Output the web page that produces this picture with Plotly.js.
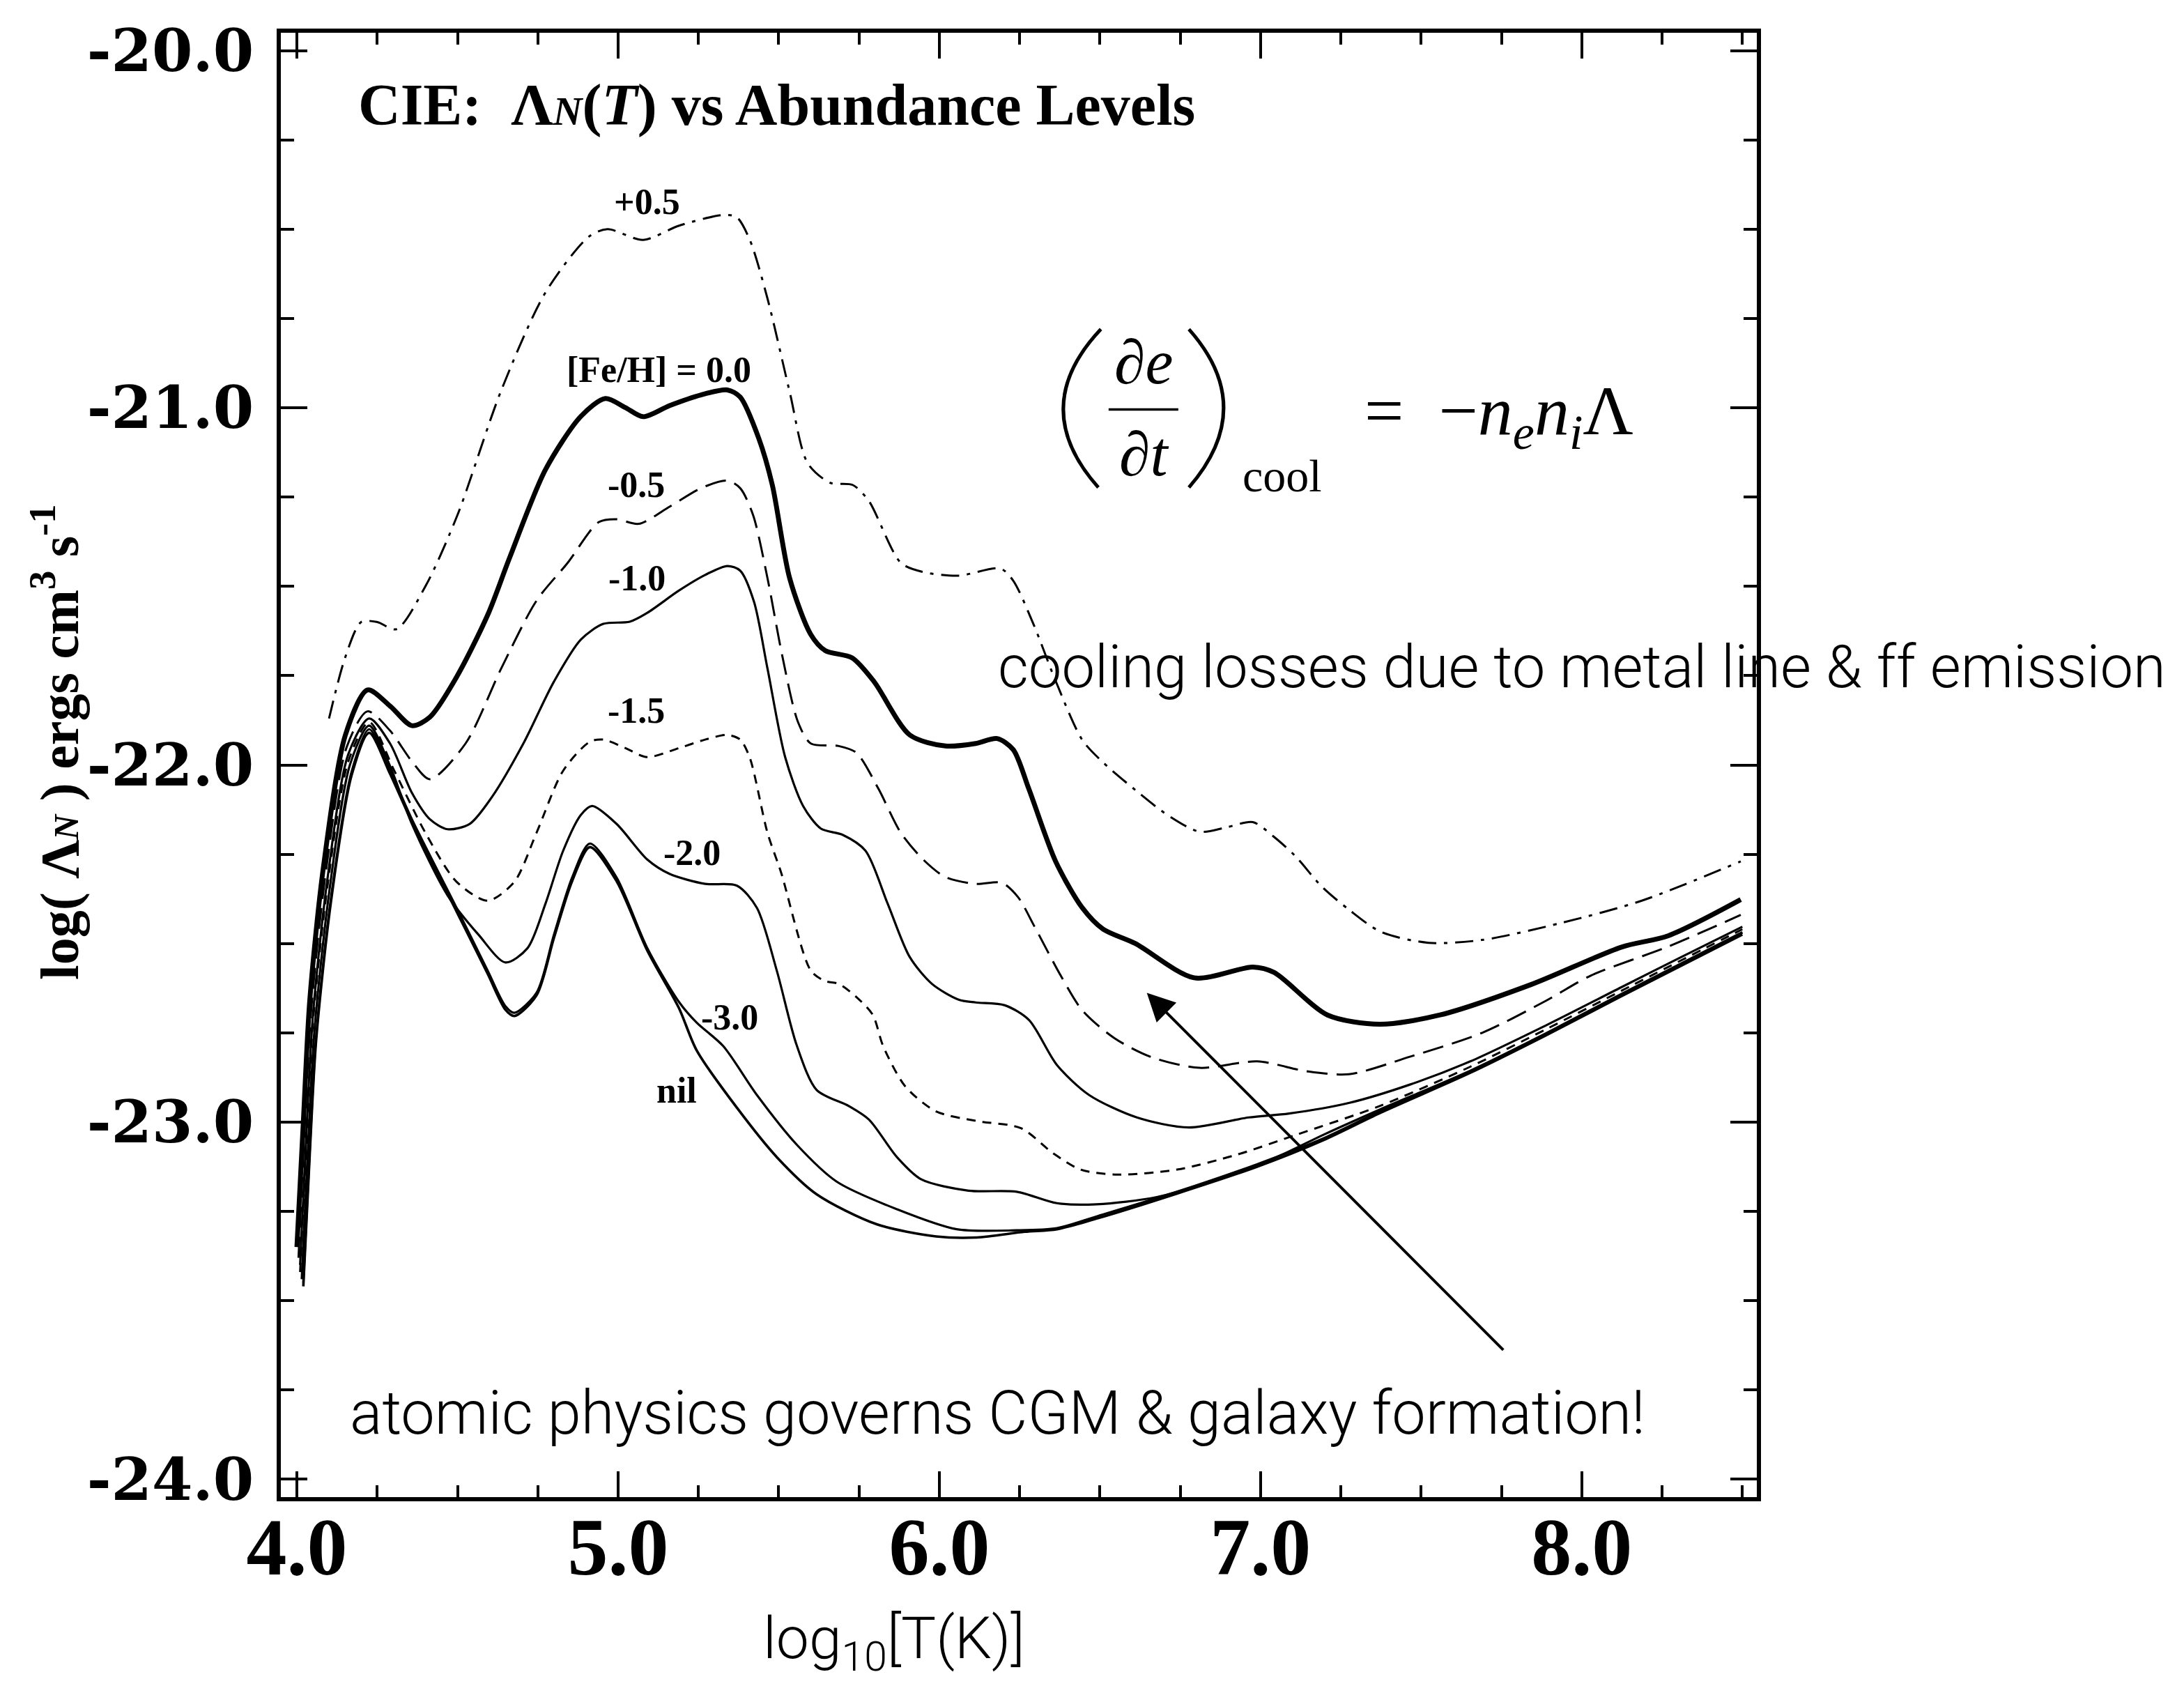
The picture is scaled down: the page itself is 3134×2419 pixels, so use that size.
<!DOCTYPE html>
<html>
<head>
<meta charset="utf-8">
<script src="https://cdn.plot.ly/plotly-3.0.1.min.js"></script>
<style>html,body{margin:0;padding:0;background:#fff;}#chart{width:3134px;height:2419px;}</style>
</head>
<body>
<div id="chart"></div>
<script>
// ---------- data ----------
const p05X = [4.10, 4.15, 4.20, 4.25, 4.31, 4.40, 4.50, 4.635, 4.774, 4.91, 4.967, 5.078, 5.19, 5.33, 5.37, 5.41, 5.465, 5.534, 5.59, 5.66, 5.73, 5.78, 5.88, 5.95, 6.06, 6.19, 6.23, 6.295, 6.36, 6.445, 6.511, 6.61, 6.71, 6.81, 6.893, 6.976, 7.04, 7.108, 7.19, 7.275, 7.374, 7.523, 7.69, 7.938, 8.187, 8.495];
const p05Y = [-21.87, -21.70, -21.60, -21.60, -21.62, -21.50, -21.30, -20.954, -20.677, -20.52, -20.50, -20.53, -20.49, -20.46, -20.467, -20.53, -20.694, -20.955, -21.155, -21.21, -21.216, -21.26, -21.434, -21.46, -21.47, -21.45, -21.484, -21.61, -21.76, -21.93, -21.994, -22.07, -22.14, -22.187, -22.175, -22.16, -22.20, -22.255, -22.34, -22.405, -22.467, -22.498, -22.49, -22.442, -22.38, -22.27];

const z00X = [4.00, 4.02, 4.04, 4.082, 4.151, 4.22, 4.29, 4.358, 4.414, 4.497, 4.594, 4.663, 4.774, 4.884, 4.96, 5.022, 5.078, 5.16, 5.258, 5.34, 5.38, 5.438, 5.48, 5.534, 5.60, 5.645, 5.728, 5.797, 5.908, 6.019, 6.113, 6.18, 6.23, 6.279, 6.362, 6.445, 6.51, 6.61, 6.793, 6.976, 7.042, 7.208, 7.371, 7.559, 7.842, 8.124, 8.27, 8.495];
const z00Y = [-23.35, -23.00, -22.66, -22.29, -21.916, -21.79, -21.835, -21.89, -21.866, -21.754, -21.58, -21.418, -21.173, -21.024, -20.974, -20.999, -21.025, -20.994, -20.964, -20.95, -20.97, -21.086, -21.216, -21.477, -21.635, -21.68, -21.70, -21.767, -21.916, -21.947, -21.94, -21.926, -21.957, -22.068, -22.27, -22.40, -22.46, -22.50, -22.596, -22.566, -22.581, -22.70, -22.726, -22.70, -22.615, -22.51, -22.478, -22.377];

const m05X = [4.005, 4.025, 4.045, 4.09, 4.155, 4.22, 4.29, 4.358, 4.414, 4.525, 4.636, 4.746, 4.843, 4.94, 4.995, 5.064, 5.16, 5.258, 5.34, 5.38, 5.42, 5.465, 5.51, 5.56, 5.60, 5.687, 5.742, 5.81, 5.88, 5.95, 6.019, 6.113, 6.195, 6.245, 6.296, 6.378, 6.445, 6.545, 6.66, 6.81, 6.99, 7.14, 7.275, 7.465, 7.69, 7.889, 8.03, 8.265, 8.495];
const m05Y = [-23.38, -23.00, -22.68, -22.30, -21.95, -21.85, -21.904, -21.99, -22.04, -21.94, -21.73, -21.54, -21.434, -21.32, -21.312, -21.325, -21.277, -21.225, -21.204, -21.225, -21.30, -21.477, -21.69, -21.88, -21.94, -21.947, -21.966, -22.066, -22.19, -22.265, -22.314, -22.333, -22.33, -22.37, -22.452, -22.59, -22.687, -22.765, -22.818, -22.848, -22.83, -22.857, -22.866, -22.817, -22.75, -22.66, -22.589, -22.51, -22.42];

const m10X = [4.01, 4.03, 4.05, 4.095, 4.16, 4.225, 4.29, 4.358, 4.414, 4.469, 4.538, 4.607, 4.705, 4.80, 4.884, 4.954, 5.036, 5.091, 5.189, 5.271, 5.34, 5.38, 5.423, 5.465, 5.52, 5.576, 5.631, 5.70, 5.77, 5.839, 5.908, 5.977, 6.06, 6.113, 6.204, 6.279, 6.366, 6.466, 6.615, 6.777, 6.963, 7.089, 7.277, 7.465, 7.653, 7.889, 8.124, 8.312, 8.50];
const m10Y = [-23.40, -23.02, -22.70, -22.32, -21.97, -21.87, -21.94, -22.078, -22.152, -22.18, -22.165, -22.09, -21.94, -21.767, -21.649, -21.605, -21.599, -21.574, -21.512, -21.468, -21.443, -21.456, -21.543, -21.73, -21.978, -22.115, -22.178, -22.196, -22.24, -22.388, -22.538, -22.613, -22.657, -22.665, -22.673, -22.714, -22.84, -22.924, -22.987, -23.015, -22.987, -22.976, -22.946, -22.895, -22.83, -22.729, -22.622, -22.537, -22.453];

const m15X = [4.01, 4.03, 4.05, 4.095, 4.16, 4.225, 4.303, 4.40, 4.497, 4.594, 4.677, 4.746, 4.829, 4.912, 4.954, 5.023, 5.09, 5.189, 5.271, 5.34, 5.38, 5.41, 5.465, 5.507, 5.60, 5.644, 5.687, 5.742, 5.793, 5.825, 5.894, 5.99, 6.117, 6.254, 6.354, 6.44, 6.553, 6.74, 6.927, 7.113, 7.371, 7.653, 7.889, 8.124, 8.50];
const m15Y = [-23.42, -23.05, -22.72, -22.34, -21.99, -21.88, -22.016, -22.19, -22.327, -22.38, -22.327, -22.19, -22.016, -21.935, -21.929, -21.953, -21.978, -21.953, -21.929, -21.916, -21.929, -21.98, -22.19, -22.30, -22.576, -22.605, -22.613, -22.65, -22.70, -22.787, -22.90, -22.97, -22.997, -23.017, -23.087, -23.133, -23.147, -23.133, -23.091, -23.035, -22.955, -22.845, -22.74, -22.632, -22.46];

const m20X = [4.015, 4.035, 4.055, 4.10, 4.165, 4.225, 4.29, 4.358, 4.469, 4.566, 4.649, 4.718, 4.774, 4.829, 4.884, 4.919, 4.995, 5.091, 5.16, 5.271, 5.37, 5.432, 5.494, 5.556, 5.618, 5.718, 5.781, 5.868, 5.943, 6.091, 6.241, 6.366, 6.49, 6.677, 6.863, 7.05, 7.197, 7.371, 7.653, 7.889, 8.124, 8.50];
const m20Y = [-23.44, -23.06, -22.74, -22.36, -22.00, -21.89, -22.003, -22.165, -22.365, -22.476, -22.553, -22.513, -22.388, -22.24, -22.14, -22.115, -22.165, -22.265, -22.305, -22.333, -22.338, -22.40, -22.576, -22.785, -22.91, -22.955, -22.993, -23.098, -23.16, -23.192, -23.195, -23.227, -23.23, -23.21, -23.16, -23.098, -23.035, -22.965, -22.856, -22.751, -22.641, -22.468];

const m30X = [4.02, 4.04, 4.06, 4.105, 4.17, 4.225, 4.29, 4.358, 4.497, 4.594, 4.649, 4.677, 4.746, 4.80, 4.857, 4.912, 4.995, 5.091, 5.189, 5.245, 5.327, 5.432, 5.556, 5.681, 5.868, 6.054, 6.241, 6.366, 6.49, 6.74, 6.989, 7.197, 7.371, 7.653, 7.889, 8.124, 8.50];
const m30Y = [-23.45, -23.08, -22.76, -22.38, -22.02, -21.90, -22.016, -22.152, -22.40, -22.576, -22.675, -22.694, -22.638, -22.476, -22.315, -22.22, -22.315, -22.513, -22.663, -22.722, -22.787, -22.924, -23.063, -23.167, -23.244, -23.30, -23.303, -23.297, -23.264, -23.195, -23.118, -23.045, -22.97, -22.858, -22.753, -22.643, -22.47];

const nilX = [4.02, 4.04, 4.06, 4.105, 4.17, 4.225, 4.29, 4.358, 4.497, 4.594, 4.649, 4.677, 4.746, 4.80, 4.857, 4.912, 4.995, 5.091, 5.189, 5.245, 5.37, 5.494, 5.618, 5.805, 5.99, 6.117, 6.266, 6.366, 6.49, 6.74, 6.989, 7.197, 7.371, 7.653, 7.889, 8.124, 8.50];
const nilY = [-23.46, -23.09, -22.77, -22.39, -22.03, -21.91, -22.025, -22.16, -22.41, -22.585, -22.685, -22.703, -22.645, -22.485, -22.325, -22.23, -22.325, -22.52, -22.68, -22.80, -22.96, -23.098, -23.202, -23.286, -23.32, -23.323, -23.307, -23.30, -23.27, -23.20, -23.125, -23.05, -22.975, -22.862, -22.757, -22.647, -22.475];

const seriesNames = ['+0.5', '[Fe/H] = 0.0', '-0.5', '-1.0', '-1.5', '-2.0', '-3.0', 'nil'];

const xTickVals = [4, 5, 6, 7, 8];
const xTickText = ['4.0', '5.0', '6.0', '7.0', '8.0'];
const yTickVals = [-20, -21, -22, -23, -24];
const yTickText = ['-20.0', '-21.0', '-22.0', '-23.0', '-24.0'];

// ---------- styles ----------
const seriesX = [p05X, z00X, m05X, m10X, m15X, m20X, m30X, nilX];
const seriesY = [p05Y, z00Y, m05Y, m10Y, m15Y, m20Y, m30Y, nilY];
const lineStyles = [
  {width: 3, dash: '26px,11px,5px,11px'},
  {width: 7, dash: 'solid'},
  {width: 3, dash: '30px,13px'},
  {width: 3.2, dash: 'solid'},
  {width: 3, dash: '13px,10px'},
  {width: 3.2, dash: 'solid'},
  {width: 3.2, dash: 'solid'},
  {width: 3.6, dash: 'solid'}
];

const traces = seriesX.map((xs, i) => ({
  type: 'scatter', mode: 'lines', name: seriesNames[i],
  x: xs, y: seriesY[i],
  line: {color: '#000', width: lineStyles[i].width, dash: lineStyles[i].dash, shape: 'spline', smoothing: 0.8},
  hoverinfo: 'skip'
}));

const serif = 'Liberation Serif, Times New Roman, serif';
const sans = 'Roboto, Liberation Sans, Arial, sans-serif';

const curveLabels = [
  {t: '+0.5', x: 5.091, y: -20.423},
  {t: '[Fe/H] = 0.0', x: 5.126, y: -20.894},
  {t: '-0.5', x: 5.056, y: -21.216},
  {t: '-1.0', x: 5.059, y: -21.477},
  {t: '-1.5', x: 5.056, y: -21.848},
  {t: '-2.0', x: 5.23, y: -22.246},
  {t: '-3.0', x: 5.347, y: -22.706},
  {t: 'nil', x: 5.182, y: -22.911}
];

const annotations = curveLabels.map(l => ({
  x: l.x, y: l.y, xref: 'x', yref: 'y', text: l.t, showarrow: false,
  xanchor: 'center', yanchor: 'middle',
  font: {family: serif, size: 52, color: '#000', weight: 'bold'}
}));

// equation
const eqFont = {family: serif, size: 90, color: '#000'};
annotations.push(
  {x: 6.636, y: -20.872, xref: 'x', yref: 'y', text: '∂<i>e</i>', showarrow: false, xanchor: 'center', yanchor: 'middle', font: eqFont},
  {x: 6.636, y: -21.13, xref: 'x', yref: 'y', text: '∂<i>t</i>', showarrow: false, xanchor: 'center', yanchor: 'middle', font: eqFont},
  {x: 7.067, y: -21.19, xref: 'x', yref: 'y', text: 'cool', showarrow: false, xanchor: 'center', yanchor: 'middle', font: {family: serif, size: 66, color: '#000'}},
  {x: 7.743, y: -21.023, xref: 'x', yref: 'y', text: '=&nbsp; −<i>n</i><sub><i>e</i></sub><i>n</i><sub><i>i</i></sub>Λ', showarrow: false, xanchor: 'center', yanchor: 'middle', font: {family: serif, size: 100, color: '#000'}}
);

// explanatory text
annotations.push(
  {x: 6.178, y: -21.725, xref: 'x', yref: 'y', text: 'cooling losses due to metal line & ff emission', showarrow: false, xanchor: 'left', yanchor: 'middle', font: {family: sans, size: 85, color: '#000', weight: 300}},
  {x: 4.161, y: -23.815, xref: 'x', yref: 'y', text: 'atomic physics governs CGM & galaxy formation!', showarrow: false, xanchor: 'left', yanchor: 'middle', font: {family: sans, size: 86.5, color: '#000', weight: 300}},
  {x: 0.4155, y: -0.099, xref: 'paper', yref: 'paper', text: 'log<sub>10</sub>[T(K)]', showarrow: false, xanchor: 'center', yanchor: 'middle', font: {family: sans, size: 84, color: '#000', weight: 300}},
  {x: -0.1525, y: 0.5155, xref: 'paper', yref: 'paper', textangle: -90, text: 'log( Λ<span style="font-size:50px"><i>N</i></span> ) ergs cm<sup>3</sup> s<sup>-1</sup>', showarrow: false, xanchor: 'center', yanchor: 'middle', font: {family: serif, size: 78, color: '#000', weight: 'bold'}},
  {x: 6.646, y: -22.638, xref: 'x', yref: 'y', ax: 7.759, ay: -23.641, axref: 'x', ayref: 'y', text: '', showarrow: true, arrowhead: 2, arrowsize: 2, arrowwidth: 4, arrowcolor: '#000', standoff: 0}
);

// fraction bar and big parentheses of the equation
const shapes = [
  {type: 'line', xref: 'x', yref: 'y', x0: 6.527, x1: 6.744, y0: -21.005, y1: -21.005, line: {color: '#000', width: 3.5}},
  {type: 'path', xref: 'x', yref: 'y', path: 'M 6.503,-20.78 Q 6.273,-20.999 6.495,-21.223', line: {color: '#000', width: 5}},
  {type: 'path', xref: 'x', yref: 'y', path: 'M 6.777,-20.78 Q 6.993,-20.999 6.777,-21.223', line: {color: '#000', width: 5}}
];

const axisCommon = {
  showgrid: false, zeroline: false, showline: true, linecolor: '#000', linewidth: 6,
  mirror: 'ticks', ticks: 'inside', tickcolor: '#000', tickwidth: 4,
  tickmode: 'array', fixedrange: true
};

const layout = {
  width: 3134, height: 2419,
  paper_bgcolor: '#fff', plot_bgcolor: '#fff',
  margin: {l: 403, r: 613, t: 47, b: 271, pad: 0},
  showlegend: false,
  font: {family: serif, color: '#000'},
  title: {
    text: 'CIE:  Λ<span style="font-size:58px"><i>N</i></span>(<i>T</i>) vs Abundance Levels',
    font: {family: serif, size: 84, color: '#000', weight: 'bold'},
    xref: 'paper', x: 0.0524, xanchor: 'left',
    yref: 'container', y: 1 - 150 / 2419, yanchor: 'middle'
  },
  xaxis: Object.assign({}, axisCommon, {
    range: [3.95, 8.545], tickvals: xTickVals, ticktext: xTickText, ticklen: 37,
    tickfont: {family: serif, size: 116, color: '#000', weight: 'bold'}, ticklabelstandoff: -34,
    minor: {tickmode: 'linear', tick0: 4, dtick: 0.25, ticks: 'inside', ticklen: 17, tickwidth: 4, tickcolor: '#000'}
  }),
  yaxis: Object.assign({}, axisCommon, {
    range: [-24.05, -19.95], tickvals: yTickVals, ticktext: yTickText, ticklen: 38,
    tickfont: {family: 'DejaVu Serif, serif', size: 84, color: '#000', weight: 'bold'}, ticklabelstandoff: 16,
    minor: {tickmode: 'linear', tick0: -24, dtick: 0.25, ticks: 'inside', ticklen: 19, tickwidth: 4, tickcolor: '#000'}
  }),
  annotations: annotations,
  shapes: shapes
};

Plotly.newPlot('chart', traces, layout, {displayModeBar: false, staticPlot: true});
</script>
</body>
</html>
